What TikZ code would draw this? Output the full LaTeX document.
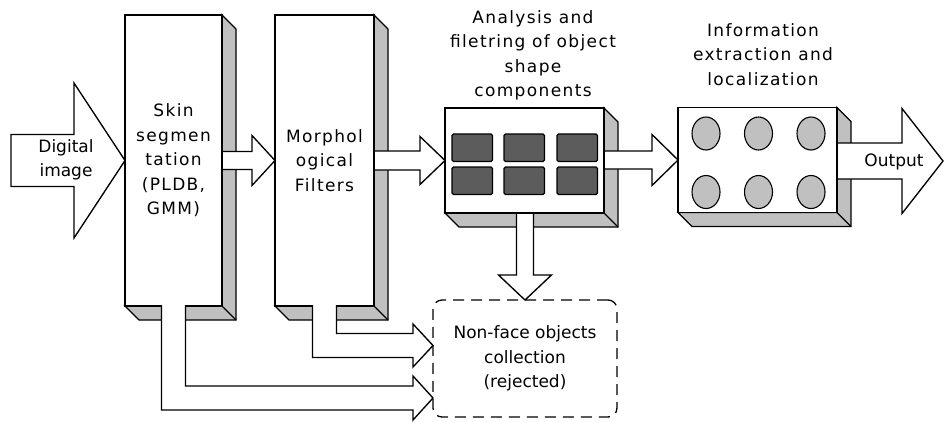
\documentclass[tikz,border=0pt]{standalone}
\usepackage{fontspec}
\newfontfamily\lblfont{DejaVu Sans}
\newfontfamily\lblwidefont[LetterSpace=8]{DejaVu Sans}
\usetikzlibrary{calc}

\pgfdeclarelayer{bg}
\pgfdeclarelayer{faces}
\pgfdeclarelayer{arrows}
\pgfsetlayers{bg,faces,arrows,main}

\definecolor{facegray}{RGB}{192,192,192}
\definecolor{tilegray}{RGB}{92,92,92}

\tikzset{
  front/.style={draw, fill=white, line width=1.35pt, inner sep=0pt, outer sep=0pt,
    align=center, font=\lblwidefont\fontsize{17}{24.5}\selectfont},
  shade3d/.style={fill=facegray, draw, line width=1.35pt, line join=miter},
  blockarrow/.style={fill=white, draw, line width=1.35pt, line join=miter},
  plainlbl/.style={align=center, inner sep=0pt, font=\lblfont\fontsize{17}{24.5}\selectfont},
  widelbl/.style={align=center, inner sep=0pt, font=\lblwidefont\fontsize{17}{24.5}\selectfont},
  tile/.style={fill=tilegray, draw, line width=1.2pt, rounded corners=1.5pt},
  blob/.style={fill=facegray, draw, line width=1.1pt},
  reject/.style={draw, dash pattern=on 11pt off 7pt, line width=1.3pt, rounded corners=9pt,
    inner sep=0pt, outer sep=0pt, align=center, font=\lblfont\fontsize{17}{24.5}\selectfont},
}

% side and bottom faces of an extruded box (depth 14)
\newcommand{\depthfaces}[1]{%
  \filldraw[shade3d] (#1.north east) -- ++(14,14) -- ($(#1.south east)+(14,14)$)
    -- ($(#1.south west)+(14,14)$) -- (#1.south west) -- (#1.south east) -- cycle;
  \draw[line width=1.35pt] (#1.south east) -- ++(14,14);}

% hollow block arrow pointing right: start, tip, shaft half, head half, head length
\newcommand{\hblock}[5]{%
  \filldraw[blockarrow] let \p1=(#1), \p2=(#2) in
    (\x1,{\y2+#3}) -- ({\x2-#5},{\y2+#3}) -- ({\x2-#5},{\y2+#4}) -- (\x2,\y2)
    -- ({\x2-#5},{\y2-#4}) -- ({\x2-#5},{\y2-#3}) -- (\x1,{\y2-#3}) -- cycle;}

% hollow block arrow pointing down: start, tip, shaft half, head half, head length
\newcommand{\vblock}[5]{%
  \filldraw[blockarrow] let \p1=(#1), \p2=(#2) in
    ({\x2-#3},\y1) -- ({\x2-#3},{\y2+#5}) -- ({\x2-#4},{\y2+#5}) -- (\x2,\y2)
    -- ({\x2+#4},{\y2+#5}) -- ({\x2+#3},{\y2+#5}) -- ({\x2+#3},\y1) -- cycle;}

% hollow band leaving a box bottom, turning right into an arrow head
\newcommand{\elbow}[5]{%
  \filldraw[blockarrow] let \p1=(#1), \p2=(#2) in
    ({\x1-#3},{\y1+0.8pt}) -- ({\x1-#3},{\y2-#3}) -- ({\x2-#5},{\y2-#3})
    -- ({\x2-#5},{\y2-#4}) -- (\x2,\y2) -- ({\x2-#5},{\y2+#4}) -- ({\x2-#5},{\y2+#3})
    -- ({\x1+#3},{\y2+#3}) -- ({\x1+#3},{\y1+0.8pt});}

\begin{document}
\begin{tikzpicture}[x=1pt, y=-1pt]
\begin{pgfonlayer}{bg}
  \fill[white] (0,0) rectangle (944,421);
\end{pgfonlayer}
\useasboundingbox (0,0) rectangle (944,421);

% stage boxes (front faces)
\node[front, minimum width=97pt, minimum height=291pt] (skin) at (173.5,160.5)
  {Skin\\segmen\\tation\\(PLDB,\\GMM)};
\node[front, minimum width=99pt, minimum height=291pt] (morph) at (324.5,160.5)
  {Morphol\\ogical\\Filters};
\node[front, minimum width=159pt, minimum height=105pt] (anal) at (524.5,160.5) {};
\node[front, minimum width=159pt, minimum height=105pt] (info) at (757.5,160) {};
\node[reject, minimum width=184pt, minimum height=117pt] (nonface) at (525,358.5)
  {Non-face objects\\collection\\(rejected)};

% captions
\node[widelbl] (analcap) at (533,55.5) {Analysis and\\filetring of object\\shape\\components};
\node[widelbl] (infocap) at (763,54.5) {Information\\extraction and\\localization};

% extruded faces
\begin{pgfonlayer}{faces}
  \depthfaces{skin}
  \depthfaces{morph}
  \depthfaces{anal}
  \depthfaces{info}
\end{pgfonlayer}

% connectors
\coordinate (src) at (11,160.5);
\coordinate (sink) at (943,161);
\coordinate (inA) at ($(nonface.west)+(0,-13)$);
\coordinate (inB) at ($(nonface.west)+(0,39.5)$);
\begin{pgfonlayer}{arrows}
  \hblock{src}{skin.west}{26pt}{77.5pt}{51pt}
  \hblock{skin.east}{morph.west}{9pt}{25pt}{23pt}
  \hblock{morph.east}{anal.west}{9.5pt}{24pt}{25pt}
  \hblock{anal.east}{info.west}{9pt}{25.5pt}{26pt}
  \hblock{info.east}{sink}{18pt}{52.5pt}{41pt}
  \vblock{anal.south}{nonface.north}{8.5pt}{26.5pt}{25pt}
\end{pgfonlayer}
\elbow{morph.south}{inA}{12pt}{21.5pt}{20pt}
\elbow{skin.south}{inB}{12pt}{22pt}{20pt}

\node[plainlbl] (digital) at (66,160) {Digital\\image};
\node[plainlbl] (outlbl) at (894,162) {Output};

% component tiles
\foreach \tx in {452,504,557} {
  \foreach \ty in {134,167} {
    \draw[tile] (\tx,\ty) rectangle ++(40.5,27.5);
  }
}
% located regions
\foreach \cx in {706,758.5,811} {
  \foreach \cy in {133.5,192} {
    \draw[blob] (\cx,\cy) ellipse [x radius=14pt, y radius=16.5pt];
  }
}
\end{tikzpicture}
\end{document}
